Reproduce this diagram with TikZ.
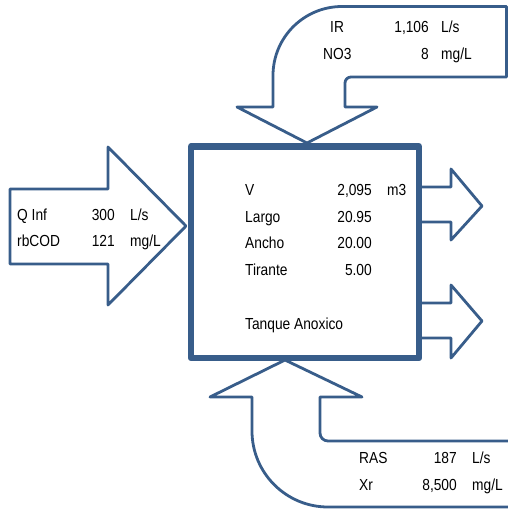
\documentclass[tikz,border=0pt]{standalone}
\usepackage{fontspec}
\setmainfont{Liberation Sans}[FakeStretch=0.86]
\usetikzlibrary{positioning}
\definecolor{tankblue}{RGB}{56,93,138}

\begin{document}
\begin{tikzpicture}[x=1pt,y=1pt]

	% 定义样式
	\tikzset{
		block arrow/.style={
			draw=tankblue, line width=2.8pt,
			line join=round, fill=white
		},
		tank/.style={
			draw=tankblue, line width=6.5pt,
			line join=round
		},
		lbl/.style={anchor=base west, inner sep=0pt, font=\fontsize{16}{19}\selectfont},
		val/.style={anchor=base east, inner sep=0pt, font=\fontsize{16}{19}\selectfont}
	}

	\useasboundingbox (0,0) rectangle (508,-509);
	\clip (0,0) rectangle (508,-509);

	% 入流箭头
	\draw[block arrow] (10,-189) -- (108,-189) -- (108,-147) -- (186,-226)
	-- (108,-305) -- (108,-264) -- (10,-264) -- cycle;

	% 内循环 (上)
	\draw[block arrow] (307,-143) -- (377,-107) -- (345,-107) -- (345,-83)
	arc (180:90:6) -- (506.5,-77) -- (506.5,-6.5) -- (342,-6.5)
	arc (90:180:69) -- (273,-107) -- (237,-107) -- cycle;

	% 回流污泥 (下)
	\draw[block arrow] (285,-360) -- (362,-397) -- (320,-397) -- (320,-433)
	arc (180:270:8) -- (515,-441) -- (515,-507) -- (328,-507)
	arc (270:180:76) -- (252,-397) -- (210,-397) -- cycle;

	% 出流箭头
	\draw[block arrow, fill=none] (419,-187) -- (451,-187) -- (451,-169) -- (482,-206)
	-- (451,-240) -- (451,-222) -- (419,-222);
	\draw[block arrow, fill=none] (419,-303) -- (451,-303) -- (451,-285) -- (482,-321)
	-- (451,-358) -- (451,-338) -- (419,-338);

	% 反应池
	\node[tank, minimum width=228pt, minimum height=211.5pt, inner sep=0pt] (tanque) at (305,-252.25) {};

	% 池内数据
	\foreach \lab/\num/\yy in {V/{2,095}/195, Largo/20.95/222, Ancho/20.00/248.5, Tirante/5.00/275} {
		\node[lbl] (t-\lab) at (245,-\yy) {\lab};
		\node[val] (v-\lab) at (372,-\yy) {\num};
	}
	\node[lbl] (u-V) at (387,-195) {m3};
	\node[lbl] (nombre) at (245,-329) {Tanque Anoxico};

	% 入流数据
	\node[lbl] (qinf) at (17,-220) {Q Inf};
	\node[val] (qinf-v) at (115,-220) {300};
	\node[lbl] (qinf-u) at (130,-220) {L/s};
	\node[lbl] (rbcod) at (17,-246.5) {rbCOD};
	\node[val] (rbcod-v) at (115,-246.5) {121};
	\node[lbl] (rbcod-u) at (130,-246.5) {mg/L};

	% 内循环数据
	\node[lbl] (ir) at (330,-32) {IR};
	\node[val] (ir-v) at (429,-32) {1,106};
	\node[lbl] (ir-u) at (441,-32) {L/s};
	\node[lbl] (no3) at (323,-59) {NO3};
	\node[val] (no3-v) at (429,-59) {8};
	\node[lbl] (no3-u) at (441,-59) {mg/L};

	% 回流数据
	\node[lbl] (ras) at (359,-463) {RAS};
	\node[val] (ras-v) at (457,-463) {187};
	\node[lbl] (ras-u) at (472,-463) {L/s};
	\node[lbl] (xr) at (359,-490) {Xr};
	\node[val] (xr-v) at (457,-490) {8,500};
	\node[lbl] (xr-u) at (472,-490) {mg/L};

\end{tikzpicture}
\end{document}
